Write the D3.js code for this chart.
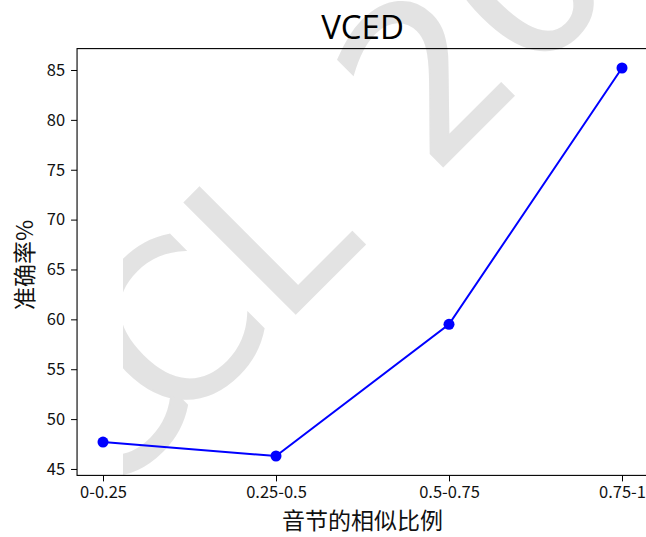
<!DOCTYPE html>
<html>
<head>
<meta charset="utf-8">
<script src="https://cdn.jsdelivr.net/npm/d3@7"></script>
<style>
  html, body { margin: 0; padding: 0; background: #fff; }
  svg { display: block; }
  .tick text { font-family: "Noto Sans CJK SC", "Open Sans", sans-serif; }
</style>
</head>
<body>
<svg id="chart" width="646" height="537"></svg>
<script>
// Accuracy by syllable-similarity bucket
const categories = ["0-0.25", "0.25-0.5", "0.5-0.75", "0.75-1"];
const accuracy = [47.7, 46.3, 59.5, 85.2];
const yTicks = [45, 50, 55, 60, 65, 70, 75, 80, 85];

const titleText = "VCED";
const xLabel = "音节的相似比例";
const yLabel = "准确率%";

// Conference watermark, one x offset per character along its baseline
const markText = "CCL 2023";
const markX = [-293, -185, -34, 86, 180, 315, 452, 589];

const W = 646, H = 537;
const svg = d3.select("#chart");

// Category positions, with a 5% margin on each side of the axis
const step = 173;
const x0 = 103;
const x = d3.scalePoint().domain(categories).range([x0, x0 + step * (categories.length - 1)]);
const plotLeft = x0 - 0.15 * step;
const plotRight = x0 + step * (categories.length - 1) + 0.15 * step;

const yMin = d3.min(accuracy), yMax = d3.max(accuracy);
const yPad = (yMax - yMin) * 0.05;
const plotTop = 48.6, plotBottom = 475.4;
const y = d3.scaleLinear().domain([yMin - yPad, yMax + yPad]).range([plotBottom, plotTop]);

// Watermark
const clip = svg.append("defs").append("clipPath").attr("id", "markClip");
clip.append("rect").attr("x", 123).attr("y", 0).attr("width", W - 123).attr("height", H);
svg.append("g")
  .attr("clip-path", "url(#markClip)")
  .append("g")
  .attr("transform", "rotate(-45)")
  .append("text")
  .attr("x", markX.join(" "))
  .attr("y", 431)
  .attr("font-family", "DejaVu Sans")
  .attr("font-size", 216)
  .attr("fill", "#e3e3e3")
  .attr("stroke", "#e3e3e3")
  .attr("stroke-width", 1.5)
  .text(markText);

// Axes frame
svg.append("rect")
  .attr("x", plotLeft).attr("y", plotTop)
  .attr("width", plotRight - plotLeft).attr("height", plotBottom - plotTop)
  .attr("fill", "none").attr("stroke", "#000").attr("stroke-width", 1.1);

// Axes
const xAxis = svg.append("g")
  .attr("transform", `translate(0,${plotBottom})`)
  .call(d3.axisBottom(x).tickSize(6).tickPadding(5));
const yAxis = svg.append("g")
  .attr("transform", `translate(${plotLeft},0)`)
  .call(d3.axisLeft(y).tickValues(yTicks).tickSize(6).tickPadding(6));
[xAxis, yAxis].forEach(g => {
  g.select(".domain").remove();
  g.selectAll(".tick line").attr("stroke", "#000").attr("stroke-width", 1);
  g.selectAll(".tick text").attr("fill", "#111").attr("font-size", 16.5);
});

// Line and markers
const line = d3.line().x((d, i) => x(categories[i])).y(d => y(d));
svg.append("path")
  .datum(accuracy)
  .attr("d", line)
  .attr("fill", "none")
  .attr("stroke", "#0000ff")
  .attr("stroke-width", 2);
svg.selectAll("circle.pt")
  .data(accuracy)
  .join("circle")
  .attr("class", "pt")
  .attr("cx", (d, i) => x(categories[i]))
  .attr("cy", d => y(d))
  .attr("r", 5.5)
  .attr("fill", "#0000ff");

// Titles
svg.append("text")
  .attr("x", (plotLeft + plotRight) / 2).attr("y", 38.5)
  .attr("text-anchor", "middle")
  .attr("font-family", "Open Sans, Noto Sans CJK SC, sans-serif")
  .attr("font-size", 33)
  .attr("fill", "#000")
  .text(titleText);

svg.append("text")
  .attr("x", (plotLeft + plotRight) / 2).attr("y", 529)
  .attr("text-anchor", "middle")
  .attr("font-family", "Noto Sans CJK SC, sans-serif")
  .attr("font-size", 23)
  .attr("fill", "#111")
  .text(xLabel);

svg.append("text")
  .attr("transform", `translate(33,${(plotTop + plotBottom) / 2 + 3}) rotate(-90)`)
  .attr("text-anchor", "middle")
  .attr("font-family", "Noto Sans CJK SC, sans-serif")
  .attr("font-size", 23)
  .attr("fill", "#111")
  .text(yLabel);
</script>
</body>
</html>
